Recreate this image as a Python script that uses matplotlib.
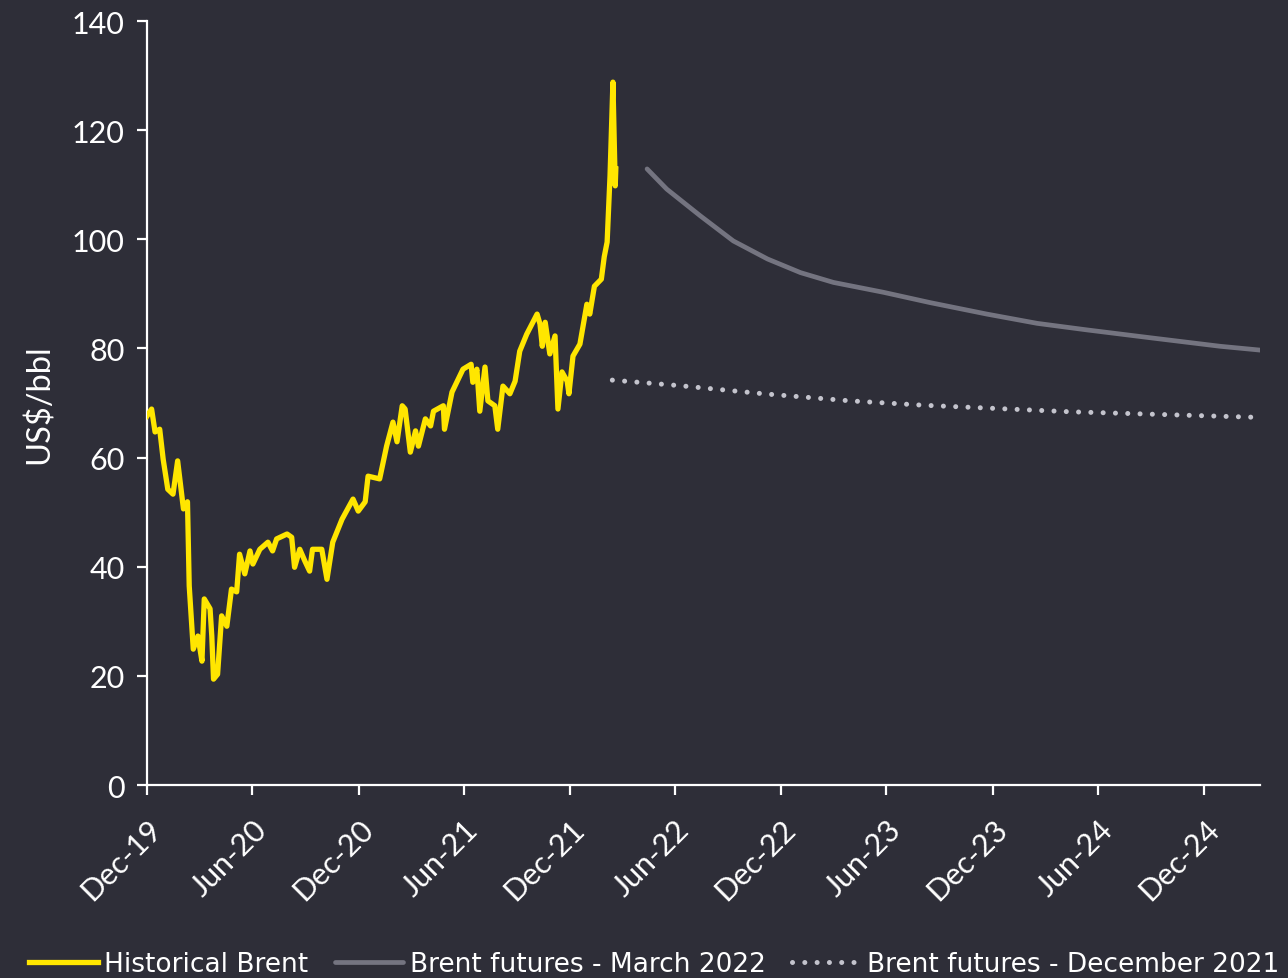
import matplotlib.pyplot as plt
import matplotlib.dates as mdates
import pandas as pd

# historical Brent spot, US$/bbl
hist_dates = [
    "2019-12-31", "2020-01-08", "2020-01-14", "2020-01-22", "2020-01-28", "2020-02-05",
    "2020-02-14", "2020-02-22", "2020-03-03", "2020-03-10", "2020-03-13", "2020-03-20",
    "2020-03-28", "2020-04-04", "2020-04-08", "2020-04-18", "2020-04-21", "2020-04-24",
    "2020-05-01", "2020-05-08", "2020-05-17", "2020-05-25", "2020-06-03", "2020-06-08",
    "2020-06-17", "2020-06-26", "2020-07-01", "2020-07-13", "2020-07-27", "2020-08-04",
    "2020-08-11", "2020-08-29", "2020-09-06", "2020-09-11", "2020-09-20", "2020-09-29",
    "2020-10-07", "2020-10-12", "2020-10-28", "2020-11-06", "2020-11-16", "2020-12-02",
    "2020-12-21", "2020-12-30", "2021-01-11", "2021-01-16", "2021-02-05", "2021-02-17",
    "2021-02-28", "2021-03-07", "2021-03-16", "2021-03-21", "2021-03-30", "2021-04-08",
    "2021-04-13", "2021-04-25", "2021-05-04", "2021-05-09", "2021-05-26", "2021-05-28",
    "2021-06-10", "2021-06-29", "2021-07-13", "2021-07-16", "2021-07-23", "2021-07-28",
    "2021-08-06", "2021-08-11", "2021-08-23", "2021-08-28", "2021-09-06", "2021-09-18",
    "2021-09-27", "2021-10-05", "2021-10-17", "2021-11-04", "2021-11-09", "2021-11-13",
    "2021-11-18", "2021-11-26", "2021-12-05", "2021-12-10", "2021-12-17", "2021-12-26",
    "2021-12-29", "2022-01-05", "2022-01-17", "2022-01-29", "2022-02-03", "2022-02-11",
    "2022-02-23", "2022-02-28", "2022-03-05", "2022-03-10", "2022-03-15", "2022-03-19",
    "2022-03-20",
]
hist_brent = [
    67.6, 68.9, 64.7, 65.2, 59.7, 54.2,
    53.3, 59.4, 50.6, 51.9, 36.5, 24.9,
    27.3, 22.7, 34.1, 32.3, 27.3, 19.4,
    20.3, 31.0, 29.1, 35.9, 35.4, 42.3,
    38.7, 42.9, 40.5, 43.2, 44.5, 42.9,
    45.1, 46.0, 45.4, 39.9, 43.2, 41.0,
    39.2, 43.2, 43.2, 37.7, 44.5, 48.7,
    52.4, 50.2, 51.9, 56.6, 56.1, 62.1,
    66.5, 62.9, 69.5, 68.9, 61.0, 64.9,
    62.1, 67.1, 65.8, 68.5, 69.5, 65.2,
    72.0, 76.2, 77.1, 73.8, 76.2, 68.5,
    76.6, 70.4, 69.5, 65.2, 73.1, 71.7,
    74.0, 79.5, 82.6, 86.3, 84.5, 80.4,
    84.8, 79.0, 82.3, 68.9, 75.7, 74.0,
    71.7, 78.6, 80.8, 88.1, 86.3, 91.4,
    92.7, 96.8, 99.5, 111.6, 128.8, 109.8,
    112.9,
]

# futures curve as of March 2022
mar22_dates = [
    "2022-05-13", "2022-06-16", "2022-08-13", "2022-10-09", "2022-12-07", "2023-02-02",
    "2023-03-31", "2023-06-25", "2023-09-14", "2023-12-21", "2024-03-17", "2024-06-11",
    "2024-10-03", "2025-01-27", "2025-04-06",
]
mar22_futures = [
    112.9, 109.2, 104.3, 99.7, 96.4, 93.9,
    92.1, 90.3, 88.4, 86.3, 84.6, 83.4,
    81.9, 80.4, 79.7,
]

# futures curve as of December 2021
dec21_dates = [
    "2022-03-14", "2022-07-07", "2022-11-30", "2023-04-29", "2023-09-02",
    "2024-05-13", "2025-03-25", "2025-04-06",
]
dec21_futures = [74.2, 73.2, 71.7, 70.4, 69.6, 68.4, 67.4, 67.2]

bg = "#2e2e38"
fg = "#ffffff"
tick_font = "Lato"

fig = plt.figure(figsize=(12.88, 9.79), dpi=100, facecolor=bg)
ax = fig.add_axes([0.1141, 0.1971, 0.9783 - 0.1141, 0.9775 - 0.1971])
ax.set_facecolor(bg)

ax.plot(pd.to_datetime(hist_dates), hist_brent, color="#ffe600", lw=3.8,
        solid_joinstyle="round", label="Historical Brent", zorder=3)
ax.plot(pd.to_datetime(mar22_dates), mar22_futures, color="#747480", lw=3.4,
        solid_capstyle="round", label="Brent futures - March 2022", zorder=2)
ax.plot(pd.to_datetime(dec21_dates), dec21_futures, color="#c4c4cd", lw=3.6,
        linestyle=(0, (0.01, 2.45)), dash_capstyle="round",
        label="Brent futures - December 2021", zorder=2)

ax.set_ylim(0, 140)
ax.set_yticks(range(0, 141, 20))
ax.set_xlim(pd.Timestamp("2019-12-31"), pd.Timestamp("2025-04-06"))
ax.set_xticks(pd.date_range("2019-12-31", periods=11, freq="6ME"))
ax.xaxis.set_major_formatter(mdates.DateFormatter("%b-%y"))

for side in ["top", "right"]:
    ax.spines[side].set_visible(False)
for side in ["left", "bottom"]:
    ax.spines[side].set_color(fg)
    ax.spines[side].set_linewidth(1.6)

ax.tick_params(axis="both", colors=fg, width=1.6, length=7, labelsize=22)
ax.tick_params(axis="x", pad=14)
ax.tick_params(axis="y", pad=9)
for lab in ax.get_xticklabels():
    lab.set_rotation(45)
    lab.set_ha("right")
    lab.set_rotation_mode("anchor")
    lab.set_fontfamily(tick_font)
for lab in ax.get_yticklabels():
    lab.set_fontfamily(tick_font)

ax.set_ylabel("US$/bbl", color=fg, fontsize=23.5, fontfamily=tick_font, labelpad=12)

fig.legend(loc="center", bbox_to_anchor=(0.508, 0.014), ncol=3, frameon=False,
           prop={"family": "DejaVu Sans", "size": 19},
           labelcolor=fg, handlelength=2.6, handletextpad=0.25, columnspacing=1.0)

fig.savefig("out.png", dpi=100, facecolor=bg)
